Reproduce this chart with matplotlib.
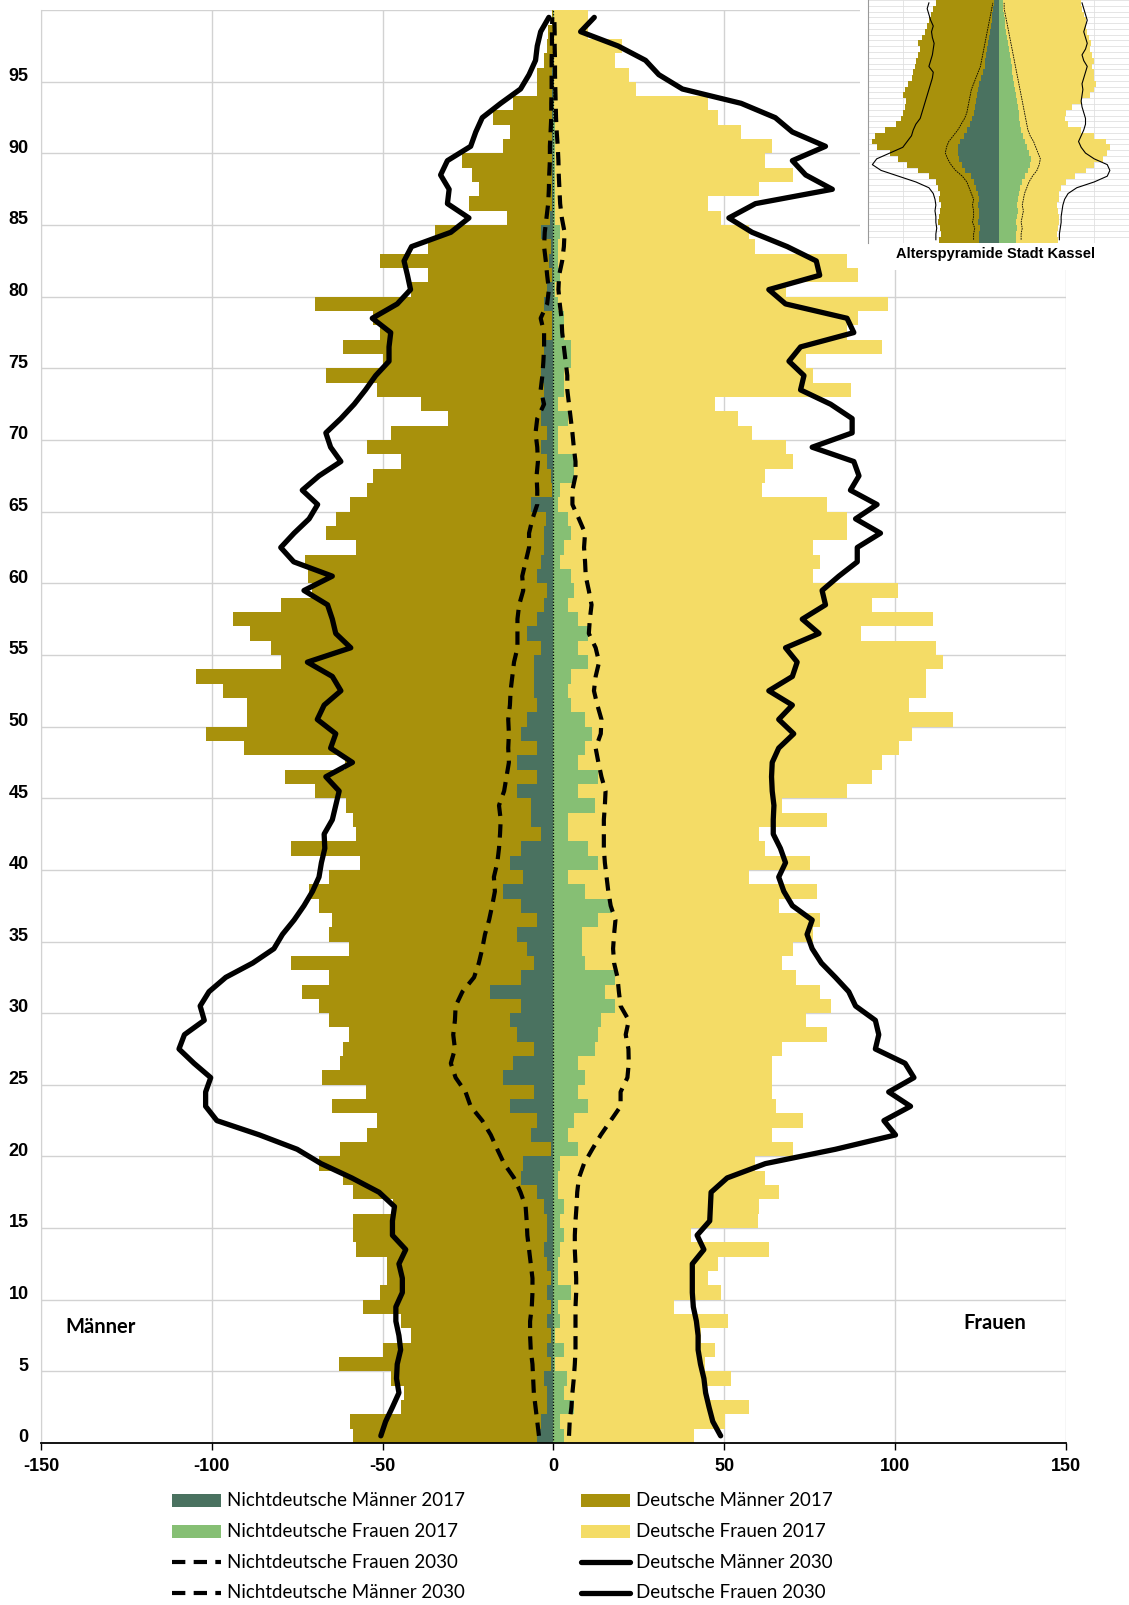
import matplotlib
matplotlib.use("Agg")
import matplotlib.pyplot as plt
import numpy as np
from matplotlib.patches import Rectangle
from matplotlib.lines import Line2D

plt.rcParams["axes.unicode_minus"] = False

# Alter 0..99
ages = np.arange(100)

# Männer 2017 insgesamt (Balkenende links) und davon Nichtdeutsche
maenner_2017_gesamt = [
    58.6, 59.6, 44.7, 43.7, 47.6, 62.7, 49.8, 41.8, 44.7, 55.7,
    50.7, 48.8, 48.8, 57.7, 58.6, 58.6, 47.0, 58.7, 61.7, 68.7,
    62.6, 54.6, 51.7, 64.7, 54.7, 67.7, 62.6, 61.7, 59.7, 65.7,
    68.6, 73.7, 65.7, 76.7, 59.7, 65.7, 64.7, 68.6, 71.6, 65.8,
    56.7, 76.7, 57.7, 58.7, 60.8, 69.7, 78.7, 61.0, 90.5, 101.6,
    89.8, 89.8, 96.6, 104.7, 79.7, 82.7, 88.8, 93.7, 79.7, 70.7,
    71.7, 72.7, 57.7, 66.6, 63.7, 59.6, 54.6, 52.7, 44.7, 54.6,
    47.6, 30.7, 38.7, 51.7, 66.6, 49.8, 61.7, 50.7, 52.7, 69.7,
    41.8, 36.7, 50.7, 36.7, 34.7, 13.7, 24.7, 21.8, 23.7, 26.7,
    14.6, 12.7, 17.7, 11.7, 4.7, 4.7, 2.7, 1.8, 1.5, 0.5]
nd_maenner_2017 = [
    4.7, 3.7, 1.8, 1.8, 2.7, 0.8, 1.8, 0.8, 1.8, 0.8,
    1.8, 0.8, 1.8, 2.7, 1.8, 1.8, 2.7, 4.7, 9.6, 8.8,
    0.8, 6.6, 4.7, 12.7, 5.7, 14.6, 11.7, 5.7, 10.7, 12.7,
    9.6, 18.6, 9.6, 5.7, 7.6, 10.7, 4.7, 9.6, 14.6, 8.8,
    12.7, 9.6, 3.7, 6.6, 6.6, 10.7, 4.7, 10.7, 4.7, 9.6,
    7.6, 4.7, 5.7, 5.7, 5.7, 3.7, 7.6, 4.7, 2.7, 1.8,
    4.7, 3.7, 2.7, 2.7, 2.0, 6.6, 0.5, 0.8, 1.8, 3.7,
    1.8, 3.7, 3.7, 2.7, 3.7, 2.7, 2.7, 0.3, 0.3, 2.7,
    1.8, 0.3, 1.3, 0.8, 3.7, 1.0, 0.4, 0.4, 0.4, 0.4,
    0.3, 0.3, 0.3, 0.3, 0.3, 0.3, 0.2, 0.2, 0.2, 0.1]

# Frauen 2017 insgesamt (Balkenende rechts) und davon Nichtdeutsche
frauen_2017_gesamt = [
    41.2, 50.2, 57.2, 45.0, 52.1, 44.3, 47.2, 43.3, 51.2, 35.3,
    49.2, 45.3, 48.2, 63.1, 40.2, 60.0, 60.2, 66.0, 62.1, 59.2,
    70.1, 64.1, 73.1, 65.1, 64.1, 64.1, 64.1, 67.0, 80.2, 74.1,
    81.2, 78.0, 71.1, 67.0, 70.1, 76.1, 78.2, 66.0, 77.3, 57.2,
    75.1, 62.1, 60.2, 80.2, 67.0, 86.1, 93.2, 96.3, 101.2, 105.1,
    117.0, 104.1, 109.2, 109.2, 114.0, 112.1, 90.2, 111.1, 93.2, 101.0,
    76.1, 78.2, 76.1, 86.1, 86.1, 80.2, 61.2, 62.1, 70.1, 68.2,
    58.2, 54.1, 47.2, 87.1, 76.1, 74.1, 96.1, 86.1, 89.2, 98.0,
    68.2, 89.2, 86.1, 59.2, 57.2, 49.2, 45.3, 60.2, 70.1, 62.1,
    64.1, 55.1, 48.2, 45.3, 24.1, 22.1, 18.2, 20.2, 10.2, 10.2]
nd_frauen_2017 = [
    3.1, 2.1, 6.1, 3.1, 4.1, 0.5, 3.1, 0.5, 2.1, 1.3,
    5.1, 1.3, 1.3, 2.1, 3.1, 2.1, 3.1, 1.3, 1.3, 2.1,
    7.2, 4.2, 6.2, 10.2, 7.2, 9.3, 7.2, 12.2, 13.2, 14.1,
    18.2, 15.1, 18.2, 9.3, 8.3, 8.3, 13.2, 17.1, 9.3, 4.2,
    13.2, 10.2, 4.2, 4.2, 12.2, 7.2, 13.2, 7.2, 9.3, 11.2,
    9.3, 5.1, 4.2, 5.1, 10.2, 7.2, 10.2, 7.2, 4.2, 6.1,
    5.1, 2.1, 3.1, 5.1, 4.2, 1.3, 2.0, 6.1, 6.1, 1.3,
    1.3, 4.2, 1.3, 3.1, 3.1, 5.1, 5.1, 3.1, 3.1, 1.3,
    0.5, 2.1, 1.3, 1.3, 2.0, 0.5, 0.5, 0.5, 0.5, 0.5,
    0.4, 0.4, 0.4, 0.3, 0.3, 0.3, 0.2, 0.2, 0.2, 0.1]

# Prognose 2030
d_maenner_2030 = [
    50.5, 49.1, 47.1, 45.2, 45.9, 45.7, 44.7, 45.2, 46.1, 46.1,
    44.2, 44.2, 45.2, 43.2, 47.1, 47.1, 46.5, 51.0, 59.0, 68.0,
    75.0, 86.0, 98.5, 101.8, 101.8, 100.3, 105.2, 109.6, 108.0, 102.2,
    103.4, 100.8, 95.9, 88.0, 81.8, 79.3, 75.9, 73.0, 70.5, 68.6,
    67.9, 66.9, 67.1, 64.7, 63.7, 62.7, 66.6, 58.8, 65.2, 63.7,
    69.1, 67.1, 62.2, 64.7, 72.0, 59.3, 63.7, 64.7, 66.1, 73.0,
    64.7, 76.0, 79.8, 75.9, 71.5, 69.0, 73.5, 68.6, 62.2, 65.2,
    66.6, 62.2, 58.3, 55.0, 52.0, 48.1, 48.1, 47.6, 53.0, 45.7,
    41.8, 42.7, 43.7, 41.5, 30.0, 24.7, 31.0, 30.5, 33.0, 31.0,
    24.2, 22.7, 20.8, 15.4, 9.6, 7.1, 5.2, 4.7, 3.7, 1.3]
d_frauen_2030 = [
    49.0, 46.7, 45.6, 44.6, 44.1, 43.1, 42.4, 42.4, 41.9, 41.0,
    40.7, 40.7, 40.7, 44.1, 42.1, 45.8, 46.0, 46.2, 50.9, 62.1,
    82.6, 100.2, 96.8, 104.6, 98.2, 105.6, 103.0, 94.3, 95.3, 94.3,
    88.5, 86.5, 82.6, 78.5, 75.8, 74.3, 75.8, 70.0, 67.5, 66.0,
    68.0, 66.5, 64.4, 64.4, 64.6, 64.1, 63.9, 64.1, 66.0, 70.4,
    66.0, 70.0, 63.1, 70.0, 71.4, 68.0, 77.8, 72.9, 79.7, 78.7,
    83.6, 89.0, 89.0, 95.8, 88.5, 94.8, 87.0, 89.5, 88.0, 75.8,
    87.5, 87.5, 81.2, 72.4, 73.4, 69.0, 72.4, 88.0, 86.0, 68.0,
    63.1, 78.0, 77.0, 68.5, 58.2, 51.4, 59.2, 81.7, 73.9, 70.0,
    79.7, 70.0, 65.0, 55.0, 37.8, 30.9, 27.0, 19.0, 8.0, 12.0]
nd_maenner_2030 = [
    4.2, 4.7, 5.2, 5.7, 5.9, 6.1, 6.6, 6.8, 6.8, 6.3,
    6.1, 6.1, 6.6, 7.1, 7.6, 7.8, 8.1, 9.6, 11.5, 14.4,
    16.4, 18.3, 20.8, 24.2, 25.7, 28.6, 30.0, 28.8, 29.3, 28.8,
    28.6, 26.6, 23.2, 21.8, 20.8, 20.0, 18.8, 17.9, 17.1, 17.4,
    16.4, 15.9, 15.6, 15.4, 15.9, 14.4, 13.7, 13.0, 13.2, 13.0,
    13.2, 12.7, 12.5, 12.0, 11.5, 10.5, 10.5, 10.5, 10.0, 8.8,
    9.1, 8.1, 7.1, 7.1, 6.1, 4.7, 4.7, 4.9, 4.5, 4.7,
    5.2, 4.7, 2.7, 3.7, 3.2, 2.9, 2.7, 2.7, 3.7, 1.8,
    1.3, 1.8, 2.2, 2.7, 2.5, 2.0, 1.5, 1.3, 1.2, 1.0,
    1.0, 0.8, 0.6, 0.6, 0.5, 0.5, 0.5, 0.4, 0.4, 0.3]
nd_frauen_2030 = [
    4.6, 4.8, 5.3, 5.6, 6.0, 6.3, 6.5, 6.5, 6.5, 6.5,
    6.7, 6.7, 6.5, 6.3, 6.3, 6.5, 6.8, 7.0, 7.5, 9.0,
    11.4, 13.9, 16.8, 19.7, 19.7, 21.7, 22.1, 22.0, 21.2, 22.1,
    19.7, 19.2, 18.8, 17.8, 17.5, 17.8, 18.2, 16.8, 16.1, 15.6,
    15.1, 14.8, 14.8, 14.8, 15.1, 15.3, 14.1, 13.2, 12.4, 13.9,
    14.1, 12.9, 11.9, 12.4, 13.4, 12.4, 10.4, 10.7, 11.2, 10.4,
    9.5, 9.3, 9.0, 9.3, 7.5, 5.6, 5.6, 6.5, 6.5, 6.0,
    5.6, 5.1, 4.6, 4.1, 4.1, 3.6, 3.1, 2.6, 2.4, 1.9,
    1.5, 1.7, 2.6, 3.1, 3.3, 2.5, 2.0, 1.8, 1.6, 1.5,
    1.3, 1.0, 0.8, 0.7, 0.6, 0.5, 0.5, 0.4, 0.4, 0.3]

# kleine Grafik: Alterspyramide Stadt Kassel (grob, von unten nach oben)
k_maenner_gesamt = [
    68, 66, 67, 69, 68, 67, 66, 68, 67, 70,
    72, 80, 92, 105, 115, 125, 140, 145, 142, 130,
    118, 112, 110, 108, 106, 110, 108, 104, 100, 98,
    96, 95, 92, 90, 92, 88, 85, 82, 80, 78, 75, 72]
k_nd_maenner = [
    22, 22, 21, 23, 22, 22, 23, 22, 24, 26,
    28, 32, 38, 42, 45, 47, 46, 44, 40, 36,
    33, 30, 28, 27, 26, 25, 24, 22, 20, 18,
    16, 15, 14, 13, 12, 11, 10, 9, 8, 7, 6, 5]
k_frauen_gesamt = [
    68, 67, 68, 70, 69, 68, 67, 69, 70, 72,
    78, 88, 100, 110, 120, 125, 128, 124, 110, 95,
    80, 76, 78, 85, 95, 105, 110, 112, 110, 110,
    108, 110, 108, 105, 106, 104, 102, 100, 100, 98, 96, 95]
k_nd_frauen = [
    20, 20, 21, 20, 21, 22, 21, 22, 23, 25,
    27, 30, 34, 36, 37, 35, 33, 31, 28, 26,
    25, 24, 23, 22, 21, 20, 19, 18, 17, 16,
    15, 14, 13, 12, 11, 10, 9, 8, 7, 6, 5, 5]
k_maenner_2030 = [
    72, 72, 71, 72, 72, 73, 72, 73, 75, 80,
    95, 115, 135, 145, 140, 125, 110, 105, 100, 98,
    95, 90, 88, 86, 84, 82, 80, 78, 76, 75,
    80, 78, 76, 75, 74, 76, 77, 75, 78, 80, 82, 80]
k_frauen_2030 = [
    70, 70, 71, 72, 72, 73, 74, 76, 80, 90,
    110, 125, 128, 125, 110, 100, 95, 92, 95, 98,
    100, 100, 98, 96, 95, 96, 97, 96, 98, 100,
    102, 98, 96, 100, 102, 100, 98, 100, 102, 100, 98, 96]

teal = "#4A7260"
olive = "#A8910C"
green = "#86BF74"
yellow = "#F4DC66"
grid_c = "#d2d2d2"

d_maenner_2017 = np.array(maenner_2017_gesamt) - np.array(nd_maenner_2017)
d_frauen_2017 = np.array(frauen_2017_gesamt) - np.array(nd_frauen_2017)

fig = plt.figure(figsize=(11.29, 16.05), dpi=100)
W, H = 1129.0, 1605.0

ax = fig.add_axes([41 / W, 1 - 1443 / H, (1065.6 - 41) / W, (1443 - 10.2) / H])
nd_m = np.array(nd_maenner_2017)
nd_f = np.array(nd_frauen_2017)
ax.barh(ages, -nd_m, height=1.0, color=teal, lw=0, zorder=2)
ax.barh(ages, -d_maenner_2017, left=-nd_m, height=1.0, color=olive, lw=0, zorder=2)
ax.barh(ages, nd_f, height=1.0, color=green, lw=0, zorder=2)
ax.barh(ages, d_frauen_2017, left=nd_f, height=1.0, color=yellow, lw=0, zorder=2)

ax.axvline(0, color="black", lw=0.9, ls=(0, (1, 1.5)), zorder=3)
ax.plot(-np.array(nd_maenner_2030), ages, color="black", lw=3.0, dashes=(3.2, 2.0),
        zorder=4, solid_joinstyle="round")
ax.plot(np.array(nd_frauen_2030), ages, color="black", lw=3.0, dashes=(3.2, 2.0),
        zorder=4)
ax.plot(-np.array(d_maenner_2030), ages, color="black", lw=3.8, zorder=5,
        solid_joinstyle="round", solid_capstyle="round")
ax.plot(np.array(d_frauen_2030), ages, color="black", lw=3.8, zorder=5,
        solid_joinstyle="round", solid_capstyle="round")

ax.set_xlim(-150, 150)
ax.set_ylim(-0.5, 99.5)
ax.set_xticks(np.arange(-150, 151, 50))
ax.set_yticks(np.arange(0, 100, 5))
ax.set_yticks(np.arange(4.5, 100, 5), minor=True)
ax.grid(axis="x", which="major", color=grid_c, lw=1.0, zorder=0)
ax.grid(axis="y", which="minor", color=grid_c, lw=1.0, zorder=0)
ax.tick_params(axis="y", which="both", length=0, pad=9)
ax.tick_params(axis="x", length=5, width=1, pad=6)
for lab in ax.get_xticklabels() + ax.get_yticklabels():
    lab.set_fontfamily("Liberation Sans")
    lab.set_fontweight("bold")
    lab.set_fontsize(13)
for s in ["top", "right"]:
    ax.spines[s].set_visible(False)
ax.spines["left"].set_color(grid_c)
ax.spines["bottom"].set_linewidth(1.3)

ax.text(-143, 7.6, "Männer", fontfamily="Lato", fontweight="bold", fontsize=14.5,
        va="center", ha="left")
ax.text(120, 7.9, "Frauen", fontfamily="Lato", fontweight="bold", fontsize=14.5,
        va="center", ha="left")

# kleine Grafik oben rechts
fig.patches.append(Rectangle((860 / W, 1 - 270 / H), (W - 860) / W, 270 / H,
                             transform=fig.transFigure, facecolor="white",
                             edgecolor="none", zorder=4))
ins = fig.add_axes([868 / W, 1 - 242.6 / H, (W - 868) / W, 242.6 / H], zorder=5)
ky = np.arange(len(k_maenner_gesamt))
knm = np.array(k_nd_maenner)
knf = np.array(k_nd_frauen)
ins.barh(ky, -knm, height=1.0, color=teal, lw=0, zorder=2)
ins.barh(ky, -(np.array(k_maenner_gesamt) - knm), left=-knm, height=1.0, color=olive, lw=0, zorder=2)
ins.barh(ky, knf, height=1.0, color=green, lw=0, zorder=2)
ins.barh(ky, np.array(k_frauen_gesamt) - knf, left=knf, height=1.0, color=yellow, lw=0, zorder=2)
ins.plot(-np.array(k_maenner_2030), ky, color="black", lw=0.8, zorder=4)
ins.plot(np.array(k_frauen_2030), ky, color="black", lw=0.8, zorder=4)
ins.plot(-knm * 1.3, ky, color="black", lw=0.6, ls=(0, (2, 1)), zorder=4)
ins.plot(knf * 1.3, ky, color="black", lw=0.6, ls=(0, (2, 1)), zorder=4)
ins.set_xlim(-150, 150)
ins.set_ylim(-0.5, len(ky) - 0.5)
ins.set_yticks(np.arange(-0.5, len(ky), 1))
ins.set_xticks([-110, 0, 110])
ins.grid(color="#e0e0e0", lw=0.6, zorder=0)
ins.tick_params(length=0, labelleft=False, labelbottom=False)
for s in ["top", "right", "bottom"]:
    ins.spines[s].set_visible(False)
ins.spines["left"].set_color("#999999")
fig.text(995 / W, 1 - 254 / H, "Alterspyramide Stadt Kassel", ha="center", va="center",
         fontfamily="Liberation Sans", fontweight="bold", fontsize=10.5, zorder=6)

# Legende
lg = fig.add_axes([0, 0, 1, 160 / H])
lg.set_xlim(0, W)
lg.set_ylim(H, H - 160)
lg.axis("off")
rows = [1500.6, 1531.3, 1562.0, 1592.7]
entries = [
    (172, rows[0], "patch", teal, "Nichtdeutsche Männer 2017"),
    (172, rows[1], "patch", green, "Nichtdeutsche Frauen 2017"),
    (172, rows[2], "dash", None, "Nichtdeutsche Frauen 2030"),
    (172, rows[3], "dash", None, "Nichtdeutsche Männer 2030"),
    (581, rows[0], "patch", olive, "Deutsche Männer 2017"),
    (581, rows[1], "patch", yellow, "Deutsche Frauen 2017"),
    (581, rows[2], "line", None, "Deutsche Männer 2030"),
    (581, rows[3], "line", None, "Deutsche Frauen 2030"),
]
for x0, y0, kind, col, label in entries:
    if kind == "patch":
        lg.add_patch(Rectangle((x0, y0 - 6.5), 49, 13, facecolor=col, edgecolor="none"))
    elif kind == "dash":
        lg.add_line(Line2D([x0, x0 + 49], [y0, y0], color="black", lw=3.0,
                           dashes=(3.2, 2.0)))
    else:
        lg.add_line(Line2D([x0, x0 + 49], [y0, y0], color="black", lw=3.8,
                           solid_capstyle="round"))
    lg.text(x0 + 55, y0, label, va="center", ha="left", fontfamily="Lato", fontsize=13.5)

fig.savefig("out.png", dpi=100)
